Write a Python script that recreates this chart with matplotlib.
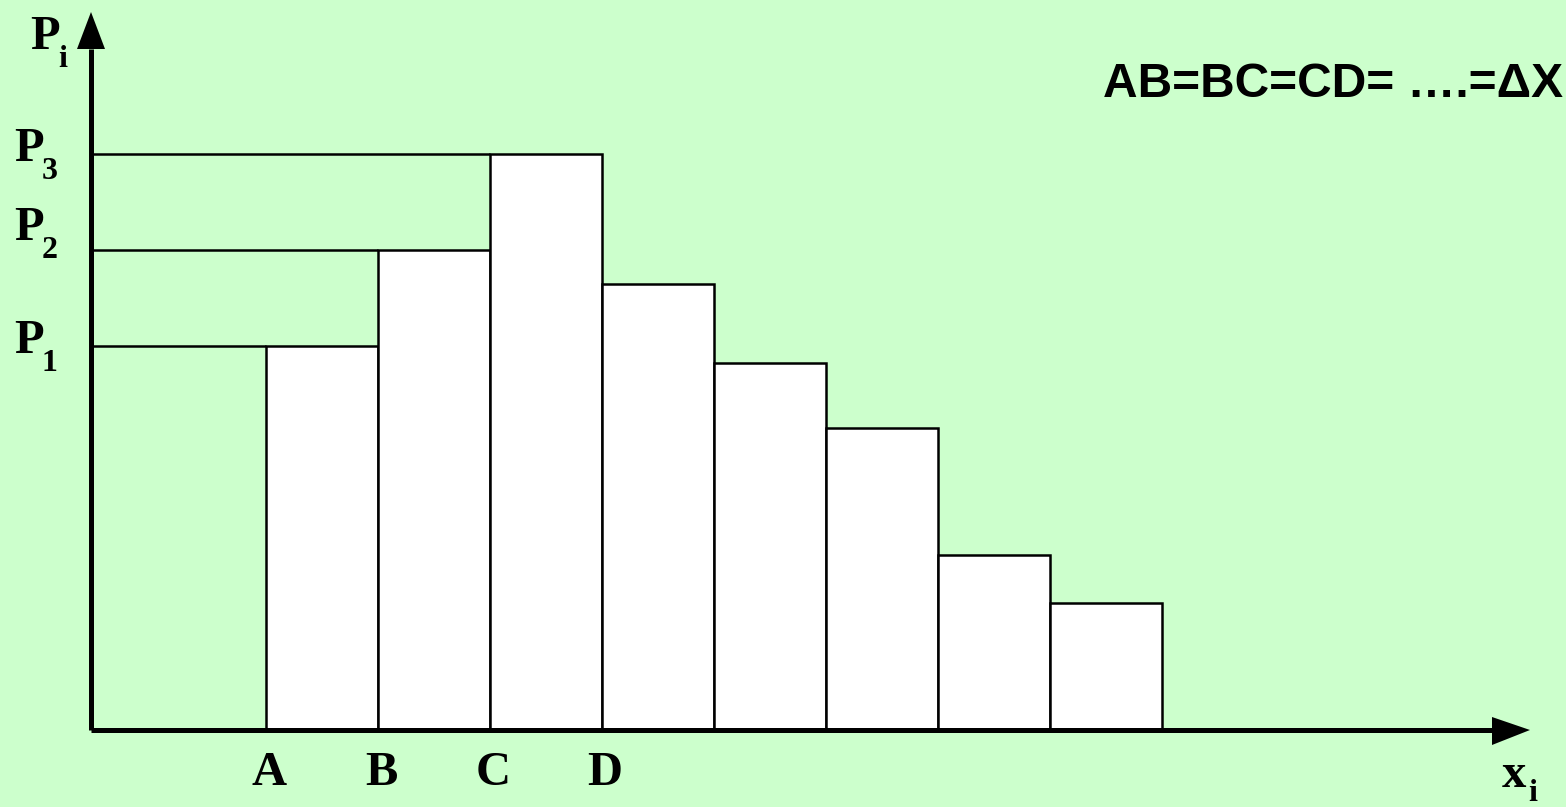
import matplotlib.pyplot as plt

# bar heights (in units of the P scale) for equal-width intervals
bar_heights = [4.0, 5.0, 6.0, 4.65, 3.82, 3.15, 1.82, 1.32]
edge_labels = ['A', 'B', 'C', 'D']
level_labels = ['1', '2', '3']   # P1, P2, P3 = heights of first three bars
note = 'AB=BC=CD= \u2026.=\u0394X'

W, H = 1566, 807
X_UNIT, Y_UNIT = 112.0, 96.0      # pixels per Δx and per height unit
X_ORIG, Y_ORIG = 266.0, 730.0     # pixel position of A on the baseline
AXIS_X = 91.0                     # pixel x of the vertical axis


def px(x):
    return (x - X_ORIG) / X_UNIT


def py(y):
    return (Y_ORIG - y) / Y_UNIT


BG = '#CCFFCC'
fig = plt.figure(figsize=(W / 100, H / 100), dpi=100, facecolor=BG)
ax = fig.add_axes([0, 0, 1, 1])
ax.set_facecolor(BG)
ax.set_xlim(px(0), px(W))
ax.set_ylim(py(H), py(0))
ax.axis('off')

serif = dict(family='Liberation Serif', fontweight='bold', color='black')

# bars
lefts = list(range(len(bar_heights)))
ax.bar(lefts, bar_heights, width=1.0, align='edge', color='white',
       edgecolor='black', linewidth=1.8, zorder=2)

# reference levels P1..P3 from the axis to the bars
x0 = px(AXIS_X)
for i in range(3):
    ax.hlines(bar_heights[i], x0, lefts[i], color='black', lw=1.8, zorder=2)

# axes with arrow heads
ax.plot([x0, x0], [0, py(49)], color='black', lw=3.6, solid_capstyle='butt', zorder=3)
ax.fill([x0 - 14 / X_UNIT, x0 + 14 / X_UNIT, x0], [py(49), py(49), py(12)],
        color='black', lw=0, zorder=3)
ax.plot([x0, px(1492)], [0, 0], color='black', lw=3.6, solid_capstyle='butt', zorder=3)
ax.fill([px(1492), px(1492), px(1530)], [py(717), py(745), 0],
        color='black', lw=0, zorder=3)

# axis labels
ax.text(px(30), py(49), 'P', fontsize=35, ha='left', va='baseline', **serif)
ax.text(px(58), py(67), 'i', fontsize=23, ha='left', va='baseline', **serif)
ax.text(px(1502), py(787), 'x', fontsize=35, ha='left', va='baseline', **serif)
ax.text(px(1528), py(801), 'i', fontsize=23, ha='left', va='baseline', **serif)

# P1..P3 labels
p_base = {'1': 353, '2': 240, '3': 161}
sub_base = {'1': 371, '2': 258, '3': 179}
for lab in level_labels:
    ax.text(px(14), py(p_base[lab]), 'P', fontsize=35, ha='left', va='baseline', **serif)
    ax.text(px(42), py(sub_base[lab]), lab, fontsize=23, ha='left', va='baseline', **serif)

# interval boundary labels
for i, lab in enumerate(edge_labels):
    ax.text(lefts[i] + 3 / X_UNIT, py(785), lab, fontsize=35, ha='center',
            va='baseline', **serif)

ax.text(px(1563), py(97), note, fontsize=34.5, ha='right', va='baseline',
        family='Liberation Sans', fontweight='bold', color='black')

fig.savefig('out.png', dpi=100, facecolor=BG)
